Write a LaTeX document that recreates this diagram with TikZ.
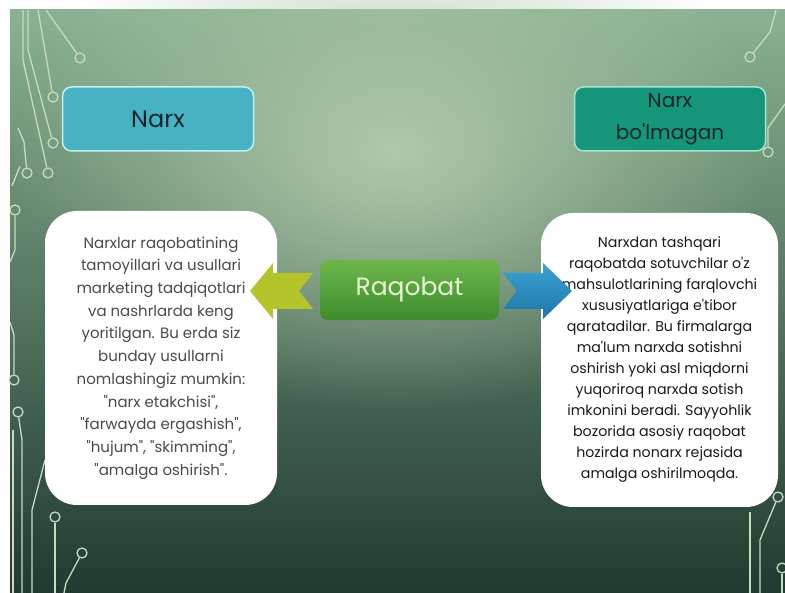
\documentclass[tikz,border=0pt]{standalone}
\usepackage{fontspec}
\setmainfont{Poppins}[Ligatures=TeXOff]
\usetikzlibrary{fadings,shadows}

\tikzfading[name=glowfade, inner color=transparent!0, outer color=transparent!100]

\definecolor{slidetop}{HTML}{8AB292}
\definecolor{slidemid}{HTML}{789C80}
\definecolor{slidebot}{HTML}{203A2F}
\definecolor{slideglow}{HTML}{B0C8AA}
\definecolor{tracegreen}{HTML}{C6DBBF}
\definecolor{narxblue}{HTML}{48B2C5}
\definecolor{narxrim}{HTML}{C2F0F2}
\definecolor{boshqagreen}{HTML}{15967A}
\definecolor{boshqarim}{HTML}{A4E4D4}
\definecolor{headtext}{HTML}{14262A}
\definecolor{raqtop}{HTML}{6CB64B}
\definecolor{raqbot}{HTML}{3E8C2C}
\definecolor{raqtext}{HTML}{E9F6D6}
\definecolor{leftarrow}{HTML}{B4C52C}
\definecolor{rightarrowtop}{HTML}{3AA2D2}
\definecolor{rightarrowbot}{HTML}{1F77A8}
\definecolor{leftink}{HTML}{4A4A4A}
\definecolor{rightink}{HTML}{1A1A1A}

\tikzset{
  trace/.style={draw=tracegreen, line width=1.3pt},
  pad/.style={circle, draw=tracegreen, line width=1.3pt, minimum size=10pt, inner sep=0pt},
  headbox/.style={rounded corners=9pt, line width=1.5pt, minimum width=191pt, minimum height=64pt,
    text=headtext, align=center},
  textbox/.style={fill=white, rounded corners=32pt, minimum height=294pt, align=center, inner sep=0pt},
  centerbox/.style={rounded corners=8pt, top color=raqtop, bottom color=raqbot, minimum width=179pt,
    minimum height=60pt, text=raqtext, font=\fontsize{25}{30}\selectfont,
    drop shadow={shadow xshift=1pt, shadow yshift=-2pt, opacity=0.35}}
}

\begin{document}
\begin{tikzpicture}[x=1pt, y=-1pt]
    \useasboundingbox (0,0) rectangle (785,593);
    % Slide background
    \fill[white] (0,0) rectangle (785,593);
    \shade[top color=slidetop, middle color=slidemid, bottom color=slidebot] (10,10) rectangle (785,593);
    \fill[slideglow, path fading=glowfade] (395,150) ellipse (380pt and 260pt);

    % Circuit traces, left
    \node[pad] (pa) at (80,58) {};
    \node[pad] (pb) at (53,97) {};
    \node[pad] (pc) at (53,143) {};
    \node[pad] (pd) at (27,173) {};
    \node[pad] (pe) at (48,173) {};
    \node[pad] (pf) at (15,210) {};
    \node[pad] (pg) at (14,380) {};
    \node[pad] (ph) at (18,412) {};
    \node[pad] (pi) at (55,517) {};
    \node[pad] (pj) at (82,553) {};
    \draw[trace] (46,10) -- (pa);
    \draw[trace] (38,10) -- (pb);
    \draw[trace] (28,10) -- (28,50) -- (pc);
    \draw[trace] (23,10) -- (23,60) -- (pe);
    \draw[trace] (18,128) -- (24,142) -- (pd);
    \draw[trace] (12,186) -- (20,166);
    \draw[trace] (pf) -- (15,250) -- (10,262);
    \draw[trace] (pg) -- (14,335) -- (10,322);
    \draw[trace] (ph) -- (22,440) -- (22,593);
    \draw[trace] (13,430) -- (13,593);
    \draw[trace] (45,460) -- (32,510) -- (32,593);
    \draw[trace] (pi) -- (55,593);
    \draw[trace] (pj) -- (66,583) -- (64,593);

    % Circuit traces, right
    \node[pad] (pk) at (750,57) {};
    \node[pad] (pl) at (768,152) {};
    \node[pad] (pm) at (778,497) {};
    \node[pad] (pn) at (782,568) {};
    \draw[trace] (pk) -- (770,32) -- (776,10);
    \draw[trace] (pl) -- (768,128) -- (785,104);
    \draw[trace] (pm) -- (760,540) -- (760,593);
    \draw[trace] (750,512) -- (750,593);
    \draw[trace] (pn) -- (782,593);

    % Header boxes
    \node[headbox, fill=narxblue, draw=narxrim, font=\fontsize{24}{30}\selectfont] (narx) at (158,119) {Narx};
    \node[headbox, fill=boshqagreen, draw=boshqarim, font=\fontsize{20}{32}\selectfont]
      (boshqa) at (670,119) {Narx\\bo'lmagan};

    % Text boxes
    \node[textbox, minimum width=232pt, text=leftink, font=\fontsize{15}{22.7}\selectfont]
      (narxtext) at (161,358) {Narxlar raqobatining\\tamoyillari va usullari\\marketing tadqiqotlari\\
      va nashrlarda keng\\yoritilgan. Bu erda siz\\bunday usullarni\\nomlashingiz mumkin:\\
      "narx etakchisi",\\"farwayda ergashish",\\"hujum", "skimming",\\"amalga oshirish".};
    \node[textbox, minimum width=237pt, text=rightink, font=\fontsize{14.2}{21}\selectfont]
      (boshqatext) at (659.5,360) {Narxdan tashqari\\raqobatda sotuvchilar o'z\\mahsulotlarining farqlovchi\\
      xususiyatlariga e'tibor\\qaratadilar. Bu firmalarga\\ma'lum narxda sotishni\\oshirish yoki asl miqdorni\\
      yuqoriroq narxda sotish\\imkonini beradi. Sayyohlik\\bozorida asosiy raqobat\\hozirda nonarx rejasida\\
      amalga oshirilmoqda.};

    % Notched arrows
    \fill[leftarrow] (250,291) -- (273,263) -- (273,273) -- (313,273) -- (299,291)
      -- (313,309) -- (273,309) -- (273,319) -- cycle;
    \shade[top color=rightarrowtop, bottom color=rightarrowbot] (503,273) -- (543,273) -- (543,263)
      -- (572,291) -- (543,319) -- (543,309) -- (503,309) -- (517,291) -- cycle;

    % Centre
    \node[centerbox] (raqobat) at (409.5,290) {Raqobat};
\end{tikzpicture}
\end{document}
